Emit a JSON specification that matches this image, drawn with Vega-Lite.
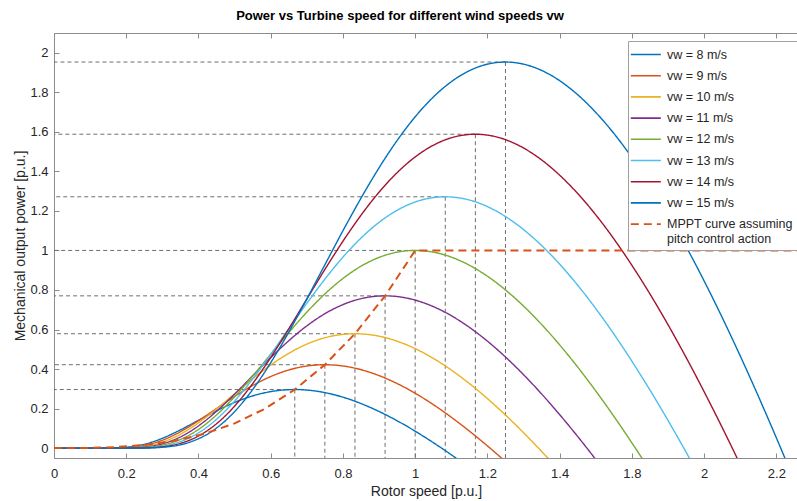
{
 "$schema": "https://vega.github.io/schema/vega-lite/v6.json",
 "width": 744, "height": 425,
 "autosize": {"type": "none"},
 "padding": {"left": 54, "top": 33, "right": 0, "bottom": 43},
 "background": "white",
 "title": {"text": "Power vs Turbine speed for different wind speeds vw", "font": "Liberation Sans", "fontSize": 13, "fontWeight": "bold", "color": "#000000", "offset": 10, "dx": -26},
 "datasets": {
  "peaks": [
   {"w": 0.6667, "p": 0.2963}, {"w": 0.75, "p": 0.4219}, {"w": 0.8333, "p": 0.5787}, {"w": 0.9167, "p": 0.7703},
   {"w": 1, "p": 1}, {"w": 1.0833, "p": 1.2714}, {"w": 1.1667, "p": 1.588}, {"w": 1.25, "p": 1.9531}
  ],
  "mppt": [
   {"s": "MPPT", "w": 0, "p": 0}, {"s": "MPPT", "w": 0.0833, "p": 0.0006}, {"s": "MPPT", "w": 0.1667, "p": 0.0046},
   {"s": "MPPT", "w": 0.25, "p": 0.0156}, {"s": "MPPT", "w": 0.3333, "p": 0.037}, {"s": "MPPT", "w": 0.4167, "p": 0.0723},
   {"s": "MPPT", "w": 0.5, "p": 0.125}, {"s": "MPPT", "w": 0.5833, "p": 0.1985}, {"s": "MPPT", "w": 0.6667, "p": 0.2963},
   {"s": "MPPT", "w": 0.75, "p": 0.4219}, {"s": "MPPT", "w": 0.8333, "p": 0.5787}, {"s": "MPPT", "w": 0.9167, "p": 0.7703},
   {"s": "MPPT", "w": 1, "p": 1}, {"s": "MPPT", "w": 2.3, "p": 1}
  ],
  "curves": [
   {"s":"8","w":0,"p":0},{"s":"8","w":0.1333,"p":0.0001},{"s":"8","w":0.1667,"p":0.0009},{"s":"8","w":0.2,"p":0.0045},{"s":"8","w":0.2333,"p":0.013},{"s":"8","w":0.2667,"p":0.028},{"s":"8","w":0.3,"p":0.0497},{"s":"8","w":0.3333,"p":0.077},{"s":"8","w":0.3667,"p":0.108},{"s":"8","w":0.4,"p":0.1407},{"s":"8","w":0.4333,"p":0.1732},{"s":"8","w":0.4667,"p":0.2037},{"s":"8","w":0.5,"p":0.2311},{"s":"8","w":0.5333,"p":0.2543},{"s":"8","w":0.5667,"p":0.2726},{"s":"8","w":0.6,"p":0.2858},{"s":"8","w":0.6333,"p":0.2937},{"s":"8","w":0.6667,"p":0.2963},{"s":"8","w":0.7,"p":0.2938},{"s":"8","w":0.7333,"p":0.2863},{"s":"8","w":0.7667,"p":0.2742},{"s":"8","w":0.8,"p":0.2577},{"s":"8","w":0.8333,"p":0.2372},{"s":"8","w":0.8667,"p":0.2129},{"s":"8","w":0.9,"p":0.1854},{"s":"8","w":0.9333,"p":0.1548},{"s":"8","w":0.9667,"p":0.1215},{"s":"8","w":1,"p":0.0857},{"s":"8","w":1.0333,"p":0.0478},{"s":"8","w":1.0667,"p":0.0079},{"s":"8","w":1.1,"p":-0.0336},{"s":"8","w":1.1333,"p":-0.0766},
   {"s":"9","w":0,"p":0},{"s":"9","w":0.15,"p":0.0001},{"s":"9","w":0.1875,"p":0.0014},{"s":"9","w":0.225,"p":0.0064},{"s":"9","w":0.2625,"p":0.0185},{"s":"9","w":0.3,"p":0.0399},{"s":"9","w":0.3375,"p":0.0708},{"s":"9","w":0.375,"p":0.1096},{"s":"9","w":0.4125,"p":0.1537},{"s":"9","w":0.45,"p":0.2003},{"s":"9","w":0.4875,"p":0.2466},{"s":"9","w":0.525,"p":0.2901},{"s":"9","w":0.5625,"p":0.329},{"s":"9","w":0.6,"p":0.362},{"s":"9","w":0.6375,"p":0.3882},{"s":"9","w":0.675,"p":0.407},{"s":"9","w":0.7125,"p":0.4182},{"s":"9","w":0.75,"p":0.4219},{"s":"9","w":0.7875,"p":0.4183},{"s":"9","w":0.825,"p":0.4077},{"s":"9","w":0.8625,"p":0.3904},{"s":"9","w":0.9,"p":0.3669},{"s":"9","w":0.9375,"p":0.3377},{"s":"9","w":0.975,"p":0.3032},{"s":"9","w":1.0125,"p":0.2639},{"s":"9","w":1.05,"p":0.2204},{"s":"9","w":1.0875,"p":0.173},{"s":"9","w":1.125,"p":0.122},{"s":"9","w":1.1625,"p":0.068},{"s":"9","w":1.2,"p":0.0113},{"s":"9","w":1.2375,"p":-0.0478},{"s":"9","w":1.275,"p":-0.109},
   {"s":"10","w":0,"p":0},{"s":"10","w":0.1667,"p":0.0002},{"s":"10","w":0.2083,"p":0.0019},{"s":"10","w":0.25,"p":0.0087},{"s":"10","w":0.2917,"p":0.0253},{"s":"10","w":0.3333,"p":0.0547},{"s":"10","w":0.375,"p":0.0971},{"s":"10","w":0.4167,"p":0.1503},{"s":"10","w":0.4583,"p":0.2109},{"s":"10","w":0.5,"p":0.2748},{"s":"10","w":0.5417,"p":0.3383},{"s":"10","w":0.5833,"p":0.3979},{"s":"10","w":0.625,"p":0.4513},{"s":"10","w":0.6667,"p":0.4966},{"s":"10","w":0.7083,"p":0.5325},{"s":"10","w":0.75,"p":0.5583},{"s":"10","w":0.7917,"p":0.5737},{"s":"10","w":0.8333,"p":0.5787},{"s":"10","w":0.875,"p":0.5738},{"s":"10","w":0.9167,"p":0.5592},{"s":"10","w":0.9583,"p":0.5355},{"s":"10","w":1,"p":0.5032},{"s":"10","w":1.0417,"p":0.4632},{"s":"10","w":1.0833,"p":0.4159},{"s":"10","w":1.125,"p":0.362},{"s":"10","w":1.1667,"p":0.3023},{"s":"10","w":1.2083,"p":0.2373},{"s":"10","w":1.25,"p":0.1674},{"s":"10","w":1.2917,"p":0.0933},{"s":"10","w":1.3333,"p":0.0155},{"s":"10","w":1.375,"p":-0.0656},{"s":"10","w":1.4167,"p":-0.1495},
   {"s":"11","w":0,"p":0},{"s":"11","w":0.1833,"p":0.0002},{"s":"11","w":0.2292,"p":0.0025},{"s":"11","w":0.275,"p":0.0116},{"s":"11","w":0.3208,"p":0.0337},{"s":"11","w":0.3667,"p":0.0728},{"s":"11","w":0.4125,"p":0.1293},{"s":"11","w":0.4583,"p":0.2001},{"s":"11","w":0.5042,"p":0.2807},{"s":"11","w":0.55,"p":0.3658},{"s":"11","w":0.5958,"p":0.4502},{"s":"11","w":0.6417,"p":0.5296},{"s":"11","w":0.6875,"p":0.6007},{"s":"11","w":0.7333,"p":0.661},{"s":"11","w":0.7792,"p":0.7087},{"s":"11","w":0.825,"p":0.7431},{"s":"11","w":0.8708,"p":0.7636},{"s":"11","w":0.9167,"p":0.7703},{"s":"11","w":0.9625,"p":0.7637},{"s":"11","w":1.0083,"p":0.7443},{"s":"11","w":1.0542,"p":0.7127},{"s":"11","w":1.1,"p":0.6698},{"s":"11","w":1.1458,"p":0.6165},{"s":"11","w":1.1917,"p":0.5536},{"s":"11","w":1.2375,"p":0.4819},{"s":"11","w":1.2833,"p":0.4024},{"s":"11","w":1.3292,"p":0.3158},{"s":"11","w":1.375,"p":0.2228},{"s":"11","w":1.4208,"p":0.1242},{"s":"11","w":1.4667,"p":0.0206},{"s":"11","w":1.5125,"p":-0.0873},{"s":"11","w":1.5583,"p":-0.199},
   {"s":"12","w":0,"p":0},{"s":"12","w":0.2,"p":0.0003},{"s":"12","w":0.25,"p":0.0032},{"s":"12","w":0.3,"p":0.0151},{"s":"12","w":0.35,"p":0.0438},{"s":"12","w":0.4,"p":0.0945},{"s":"12","w":0.45,"p":0.1678},{"s":"12","w":0.5,"p":0.2598},{"s":"12","w":0.55,"p":0.3644},{"s":"12","w":0.6,"p":0.4749},{"s":"12","w":0.65,"p":0.5845},{"s":"12","w":0.7,"p":0.6876},{"s":"12","w":0.75,"p":0.7799},{"s":"12","w":0.8,"p":0.8581},{"s":"12","w":0.85,"p":0.9201},{"s":"12","w":0.9,"p":0.9647},{"s":"12","w":0.95,"p":0.9913},{"s":"12","w":1,"p":1},{"s":"12","w":1.05,"p":0.9915},{"s":"12","w":1.1,"p":0.9663},{"s":"12","w":1.15,"p":0.9253},{"s":"12","w":1.2,"p":0.8696},{"s":"12","w":1.25,"p":0.8004},{"s":"12","w":1.3,"p":0.7187},{"s":"12","w":1.35,"p":0.6256},{"s":"12","w":1.4,"p":0.5224},{"s":"12","w":1.45,"p":0.41},{"s":"12","w":1.5,"p":0.2893},{"s":"12","w":1.55,"p":0.1613},{"s":"12","w":1.6,"p":0.0268},{"s":"12","w":1.65,"p":-0.1134},{"s":"12","w":1.7,"p":-0.2584},
   {"s":"13","w":0,"p":0},{"s":"13","w":0.2167,"p":0.0004},{"s":"13","w":0.2708,"p":0.0041},{"s":"13","w":0.325,"p":0.0192},{"s":"13","w":0.3792,"p":0.0557},{"s":"13","w":0.4333,"p":0.1201},{"s":"13","w":0.4875,"p":0.2133},{"s":"13","w":0.5417,"p":0.3303},{"s":"13","w":0.5958,"p":0.4633},{"s":"13","w":0.65,"p":0.6038},{"s":"13","w":0.7042,"p":0.7431},{"s":"13","w":0.7583,"p":0.8742},{"s":"13","w":0.8125,"p":0.9916},{"s":"13","w":0.8667,"p":1.091},{"s":"13","w":0.9208,"p":1.1698},{"s":"13","w":0.975,"p":1.2265},{"s":"13","w":1.0292,"p":1.2604},{"s":"13","w":1.0833,"p":1.2714},{"s":"13","w":1.1375,"p":1.2606},{"s":"13","w":1.1917,"p":1.2286},{"s":"13","w":1.2458,"p":1.1764},{"s":"13","w":1.3,"p":1.1056},{"s":"13","w":1.3542,"p":1.0176},{"s":"13","w":1.4083,"p":0.9138},{"s":"13","w":1.4625,"p":0.7954},{"s":"13","w":1.5167,"p":0.6642},{"s":"13","w":1.5708,"p":0.5213},{"s":"13","w":1.625,"p":0.3678},{"s":"13","w":1.6792,"p":0.2051},{"s":"13","w":1.7333,"p":0.0341},{"s":"13","w":1.7875,"p":-0.1442},{"s":"13","w":1.8417,"p":-0.3285},
   {"s":"14","w":0,"p":0},{"s":"14","w":0.2333,"p":0.0005},{"s":"14","w":0.2917,"p":0.0051},{"s":"14","w":0.35,"p":0.024},{"s":"14","w":0.4083,"p":0.0696},{"s":"14","w":0.4667,"p":0.1501},{"s":"14","w":0.525,"p":0.2665},{"s":"14","w":0.5833,"p":0.4126},{"s":"14","w":0.6417,"p":0.5787},{"s":"14","w":0.7,"p":0.7541},{"s":"14","w":0.7583,"p":0.9282},{"s":"14","w":0.8167,"p":1.0919},{"s":"14","w":0.875,"p":1.2385},{"s":"14","w":0.9333,"p":1.3626},{"s":"14","w":0.9917,"p":1.4611},{"s":"14","w":1.05,"p":1.5319},{"s":"14","w":1.1083,"p":1.5742},{"s":"14","w":1.1667,"p":1.588},{"s":"14","w":1.225,"p":1.5745},{"s":"14","w":1.2833,"p":1.5344},{"s":"14","w":1.3417,"p":1.4693},{"s":"14","w":1.4,"p":1.3809},{"s":"14","w":1.4583,"p":1.271},{"s":"14","w":1.5167,"p":1.1413},{"s":"14","w":1.575,"p":0.9934},{"s":"14","w":1.6333,"p":0.8296},{"s":"14","w":1.6917,"p":0.6511},{"s":"14","w":1.75,"p":0.4594},{"s":"14","w":1.8083,"p":0.2561},{"s":"14","w":1.8667,"p":0.0426},{"s":"14","w":1.925,"p":-0.1801},{"s":"14","w":1.9833,"p":-0.4103},
   {"s":"15","w":0,"p":0},{"s":"15","w":0.25,"p":0.0006},{"s":"15","w":0.3125,"p":0.0063},{"s":"15","w":0.375,"p":0.0295},{"s":"15","w":0.4375,"p":0.0855},{"s":"15","w":0.5,"p":0.1846},{"s":"15","w":0.5625,"p":0.3277},{"s":"15","w":0.625,"p":0.5074},{"s":"15","w":0.6875,"p":0.7117},{"s":"15","w":0.75,"p":0.9275},{"s":"15","w":0.8125,"p":1.1416},{"s":"15","w":0.875,"p":1.343},{"s":"15","w":0.9375,"p":1.5232},{"s":"15","w":1,"p":1.676},{"s":"15","w":1.0625,"p":1.7971},{"s":"15","w":1.125,"p":1.8842},{"s":"15","w":1.1875,"p":1.9361},{"s":"15","w":1.25,"p":1.9531},{"s":"15","w":1.3125,"p":1.9365},{"s":"15","w":1.375,"p":1.8873},{"s":"15","w":1.4375,"p":1.8072},{"s":"15","w":1.5,"p":1.6984},{"s":"15","w":1.5625,"p":1.5633},{"s":"15","w":1.625,"p":1.4037},{"s":"15","w":1.6875,"p":1.2219},{"s":"15","w":1.75,"p":1.0203},{"s":"15","w":1.8125,"p":0.8008},{"s":"15","w":1.875,"p":0.565},{"s":"15","w":1.9375,"p":0.315},{"s":"15","w":2,"p":0.0523},{"s":"15","w":2.0625,"p":-0.2215},{"s":"15","w":2.125,"p":-0.5047}
  ]
 },
 "layer": [
  {
   "data": {"name": "peaks"},
   "mark": {"type": "rule", "color": "#6e6e6e", "strokeWidth": 1, "strokeDash": [4, 3]},
   "encoding": {
    "x": {"field": "w", "type": "quantitative", "scale": {"domain": [0, 2.06], "nice": false, "zero": false},
          "axis": {"orient": "top", "labels": false, "title": null, "domain": false, "values": [0, 0.2, 0.4, 0.6, 0.8, 1, 1.2, 1.4, 1.6, 1.8, 2]}},
    "x2": {"datum": 0},
    "y": {"field": "p", "type": "quantitative", "scale": {"domain": [-0.05, 2.1], "nice": false, "zero": false}, "axis": null}
   }
  },
  {
   "data": {"name": "peaks"},
   "mark": {"type": "rule", "color": "#6e6e6e", "strokeWidth": 1, "strokeDash": [4, 3]},
   "encoding": {
    "x": {"field": "w", "type": "quantitative", "axis": null},
    "y": {"field": "p", "type": "quantitative", "axis": null},
    "y2": {"datum": -0.05}
   }
  },
  {
   "data": {"name": "curves"},
   "mark": {"type": "line", "strokeWidth": 1.4, "interpolate": "monotone", "clip": true},
   "encoding": {
    "x": {"field": "w", "type": "quantitative", "title": "Rotor speed [p.u.]",
          "axis": {"orient": "bottom", "values": [0, 0.2, 0.4, 0.6, 0.8, 1, 1.2, 1.4, 1.6, 1.8, 2], "labelPadding": 14, "titlePadding": 4,
                   "labelExpr": "datum.value > 1.5 ? format(datum.value + 0.2, '.1~f') : format(datum.value, '.1~f')"}},
    "y": {"field": "p", "type": "quantitative", "title": "Mechanical output power [p.u.]",
          "axis": {"orient": "left", "values": [0, 0.2, 0.4, 0.6, 0.8, 1, 1.2, 1.4, 1.6, 1.8, 2], "labelPadding": 11, "titlePadding": 2,
                   "labelExpr": "format(datum.value, '.1~f')"}},
    "color": {"field": "s", "type": "nominal",
              "scale": {"domain": ["8", "9", "10", "11", "12", "13", "14", "15", "MPPT"],
                        "range": ["#0072BD", "#D95319", "#EDB120", "#7E2F8E", "#77AC30", "#4DBEEE", "#A2142F", "#0072BD", "#D95319"]},
              "legend": {"labelExpr": "datum.label == 'MPPT' ? ['MPPT curve assuming', '\u00a0pitch control action'] : 'vw = ' + datum.label + ' m/s'"}},
    "strokeDash": {"field": "s", "type": "nominal",
              "scale": {"domain": ["8", "9", "10", "11", "12", "13", "14", "15", "MPPT"],
                        "range": [[1, 0], [1, 0], [1, 0], [1, 0], [1, 0], [1, 0], [1, 0], [1, 0], [8, 5]]},
              "legend": {"labelExpr": "datum.label == 'MPPT' ? ['MPPT curve assuming', '\u00a0pitch control action'] : 'vw = ' + datum.label + ' m/s'"}}
   }
  },
  {
   "data": {"name": "mppt"},
   "mark": {"type": "line", "strokeWidth": 2, "clip": true},
   "encoding": {
    "x": {"field": "w", "type": "quantitative", "axis": null},
    "y": {"field": "p", "type": "quantitative", "axis": null},
    "color": {"field": "s", "type": "nominal",
              "legend": {"labelExpr": "datum.label == 'MPPT' ? ['MPPT curve assuming', '\u00a0pitch control action'] : 'vw = ' + datum.label + ' m/s'"}},
    "strokeDash": {"field": "s", "type": "nominal",
              "legend": {"labelExpr": "datum.label == 'MPPT' ? ['MPPT curve assuming', '\u00a0pitch control action'] : 'vw = ' + datum.label + ' m/s'"}}
   }
  }
 ],
 "resolve": {"axis": {"x": "independent", "y": "independent"}},
 "config": {
  "view": {"stroke": "#8c8c8c"},
  "axis": {"grid": false, "domainColor": "#8c8c8c", "tickColor": "#8c8c8c", "tickSize": -5, "labelFlush": false,
           "labelFont": "Liberation Sans", "labelFontSize": 13, "labelColor": "#262626",
           "titleFont": "Liberation Sans", "titleFontSize": 14, "titleFontWeight": "normal", "titleColor": "#262626"},
  "legend": {"orient": "none", "legendX": 574, "legendY": 8, "title": null, "symbolType": "M-1.7647,0H1.7647", "symbolSize": 289,
             "symbolOffset": 4.33, "symbolStrokeWidth": 1.6, "labelFont": "Liberation Sans", "labelFontSize": 12.5, "labelColor": "#262626",
             "labelOffset": 11.67, "rowPadding": 5.2, "padding": 4, "fillColor": "white", "strokeColor": "#a0a0a0", "labelLimit": 0}
 }
}
